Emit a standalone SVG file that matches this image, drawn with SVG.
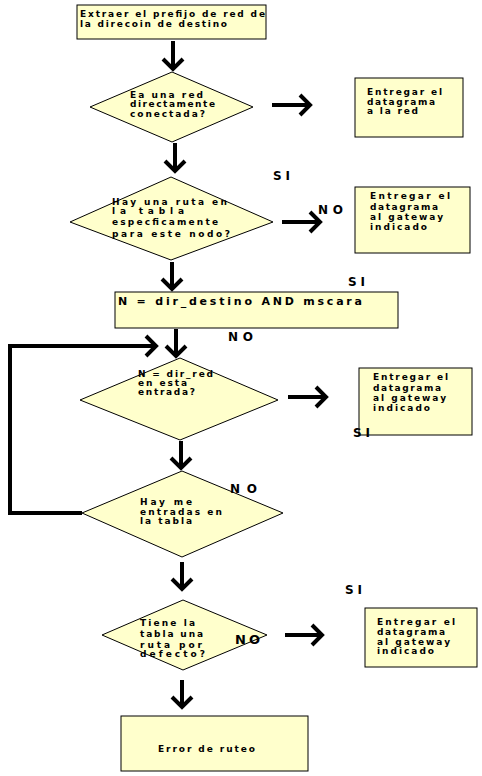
<svg xmlns="http://www.w3.org/2000/svg" width="482" height="776" viewBox="0 0 482 776">
<style>
.box{fill:#FFFFCC;stroke:#000;stroke-width:1}
.t{font-family:"DejaVu Sans","Liberation Sans",Arial,sans-serif;font-weight:bold;font-size:9px;fill:#000}
.lb{font-family:"DejaVu Sans","Liberation Sans",Arial,sans-serif;font-weight:bold;font-size:12px;fill:#000}
.c{fill:none;stroke:#000;stroke-width:4;marker-end:url(#ah)}
</style>
<defs>
<marker id="ah" markerUnits="userSpaceOnUse" markerWidth="30" markerHeight="30" viewBox="-15 -15 30 30" refX="0" refY="0" orient="auto" overflow="visible">
<path d="M-10,-10 L0,0 L-10,10" fill="none" stroke="#000" stroke-width="4" stroke-linejoin="miter"/>
</marker>
</defs>
<rect width="482" height="776" fill="#fff"/>
<g id="connectors">
<line class="c" x1="173" y1="41" x2="173" y2="69"/>
<line class="c" x1="175" y1="143" x2="175" y2="171"/>
<line class="c" x1="172" y1="262" x2="172" y2="289"/>
<line class="c" x1="176" y1="329" x2="176" y2="356"/>
<line class="c" x1="181" y1="441" x2="181" y2="468"/>
<line class="c" x1="182" y1="562" x2="182" y2="589"/>
<line class="c" x1="182" y1="680" x2="182" y2="707"/>
<line class="c" x1="272" y1="105" x2="310" y2="105"/>
<line class="c" x1="282" y1="222" x2="320" y2="222"/>
<line class="c" x1="288" y1="397" x2="326" y2="397"/>
<line class="c" x1="285" y1="635" x2="322" y2="635"/>
<polyline class="c" points="82,513 10,513 10,346 156,346"/>
</g>
<g id="n1">
<rect class="box" x="77" y="5" width="189" height="34"/>
<text class="t" x="80" y="17" textLength="185" lengthAdjust="spacing">Extraer el prefijo de red de</text>
<text class="t" x="80" y="27" textLength="147" lengthAdjust="spacing">la direcoin de destino</text>
</g>
<g id="d1">
<polygon class="box" points="172,72 253,107 172,142 90,107"/>
<text class="t" x="130" y="98" textLength="73" lengthAdjust="spacing">Ea una red</text>
<text class="t" x="130" y="107" textLength="85" lengthAdjust="spacing">directamente</text>
<text class="t" x="130" y="117" textLength="75" lengthAdjust="spacing">conectada?</text>
</g>
<g id="b1">
<rect class="box" x="355" y="78" width="108" height="59"/>
<text class="t" x="367" y="95" textLength="75" lengthAdjust="spacing">Entregar el</text>
<text class="t" x="367" y="105" textLength="68" lengthAdjust="spacing">datagrama</text>
<text class="t" x="367" y="114" textLength="51" lengthAdjust="spacing">a la red</text>
</g>
<text class="lb" x="273" y="180" textLength="17" lengthAdjust="spacing">SI</text>
<g id="d2">
<polygon class="box" points="171,177 273,222 171,260 70,222"/>
<text class="t" x="112" y="205" textLength="115" lengthAdjust="spacing">Hay una ruta en</text>
<text class="t" x="112" y="214" textLength="72" lengthAdjust="spacing">la tabla</text>
<text class="t" x="112" y="225" textLength="106" lengthAdjust="spacing">especficamente</text>
<text class="t" x="112" y="237" textLength="118" lengthAdjust="spacing">para este nodo?</text>
</g>
<text class="lb" x="318" y="214" textLength="25" lengthAdjust="spacing">NO</text>
<g id="b2">
<rect class="box" x="355" y="187" width="115" height="66"/>
<text class="t" x="370" y="199" textLength="80" lengthAdjust="spacing">Entregar el</text>
<text class="t" x="370" y="210" textLength="68" lengthAdjust="spacing">datagrama</text>
<text class="t" x="370" y="220" textLength="73" lengthAdjust="spacing">al gateway</text>
<text class="t" x="370" y="230" textLength="57" lengthAdjust="spacing">indicado</text>
</g>
<text class="lb" x="348" y="286" textLength="17" lengthAdjust="spacing">SI</text>
<g id="n2">
<rect class="box" x="115" y="292" width="283" height="36"/>
<text class="lb" x="118" y="305" textLength="244" lengthAdjust="spacing" style="font-size:11px">N = dir_destino AND mscara</text>
</g>
<text class="lb" x="228" y="341" textLength="25" lengthAdjust="spacing">NO</text>
<g id="d3">
<polygon class="box" points="180,358 278,400 180,440 80,400"/>
<text class="t" x="138" y="377" textLength="75" lengthAdjust="spacing">N = dir_red</text>
<text class="t" x="138" y="386" textLength="49" lengthAdjust="spacing">en esta</text>
<text class="t" x="138" y="395" textLength="57" lengthAdjust="spacing">entrada?</text>
</g>
<g id="b3">
<rect class="box" x="359" y="368" width="113" height="67"/>
<text class="t" x="373" y="380" textLength="75" lengthAdjust="spacing">Entregar el</text>
<text class="t" x="373" y="391" textLength="68" lengthAdjust="spacing">datagrama</text>
<text class="t" x="373" y="401" textLength="73" lengthAdjust="spacing">al gateway</text>
<text class="t" x="373" y="411" textLength="57" lengthAdjust="spacing">indicado</text>
</g>
<text class="lb" x="353" y="437" textLength="17" lengthAdjust="spacing">SI</text>
<g id="d4">
<polygon class="box" points="182,471 283,513 182,557 82,513"/>
<text class="t" x="140" y="505" textLength="52" lengthAdjust="spacing">Hay me</text>
<text class="t" x="140" y="515" textLength="82" lengthAdjust="spacing">entradas en</text>
<text class="t" x="140" y="524" textLength="52" lengthAdjust="spacing">la tabla</text>
</g>
<text class="lb" x="230" y="493" textLength="27" lengthAdjust="spacing">NO</text>
<text class="lb" x="345" y="594" textLength="17" lengthAdjust="spacing">SI</text>
<g id="d5">
<polygon class="box" points="183,600 267,635 183,670 102,635"/>
<text class="t" x="140" y="626" textLength="55" lengthAdjust="spacing">Tiene la</text>
<text class="t" x="140" y="637" textLength="63" lengthAdjust="spacing">tabla una</text>
<text class="t" x="140" y="648" textLength="62" lengthAdjust="spacing">ruta por</text>
<text class="t" x="140" y="657" textLength="65" lengthAdjust="spacing">defecto?</text>
</g>
<text class="lb" x="235" y="644" textLength="25" lengthAdjust="spacing" style="font-size:13px">NO</text>
<g id="b4">
<rect class="box" x="365" y="608" width="112" height="59"/>
<text class="t" x="377" y="625" textLength="78" lengthAdjust="spacing">Entregar el</text>
<text class="t" x="377" y="635" textLength="68" lengthAdjust="spacing">datagrama</text>
<text class="t" x="377" y="645" textLength="73" lengthAdjust="spacing">al gateway</text>
<text class="t" x="377" y="654" textLength="57" lengthAdjust="spacing">indicado</text>
</g>
<g id="n3">
<rect class="box" x="121" y="716" width="187" height="55"/>
<text class="t" x="158" y="752" textLength="97" lengthAdjust="spacing">Error de ruteo</text>
</g>
</svg>
